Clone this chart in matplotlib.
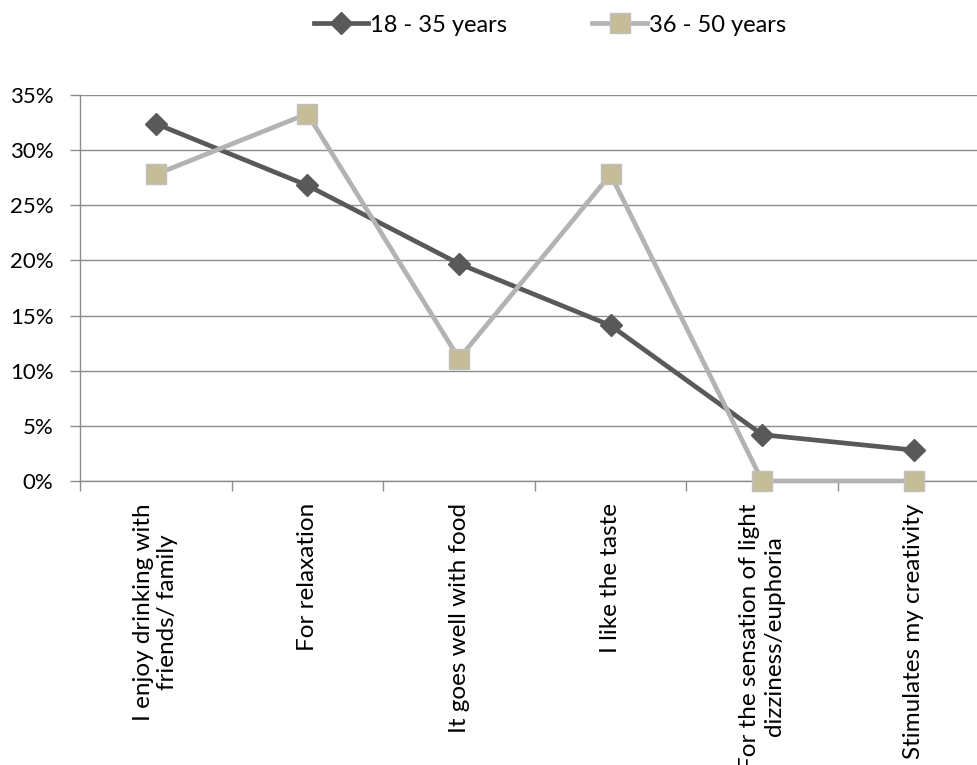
import numpy as np
import matplotlib
matplotlib.use("Agg")
import matplotlib.pyplot as plt
from matplotlib.ticker import FuncFormatter, FixedLocator

categories = [
    "I enjoy drinking with\nfriends/ family",
    "For relaxation",
    "It goes well with food",
    "I like the taste",
    "For the sensation of light\ndizziness/euphoria",
    "Stimulates my creativity",
]
young = [32.4, 26.8, 19.7, 14.1, 4.2, 2.8]
older = [27.8, 33.3, 11.1, 27.8, 0.0, 0.0]
y_ticks = [0, 5, 10, 15, 20, 25, 30, 35]

plt.rcParams["font.family"] = ["Lato", "DejaVu Sans"]

fig = plt.figure(figsize=(9.77, 7.65), dpi=100)
ax = fig.add_axes([80 / 977, 284 / 765, 909.6 / 977, 386 / 765])

x = np.arange(len(categories))
ax.plot(x, young, color="#595959", lw=3.4, marker="D", ms=11,
        mfc="#595959", mec="#595959", label="18 - 35 years", zorder=3,
        clip_on=False)
ax.plot(x, older, color="#b3b3b3", lw=3.4, marker="s", ms=14,
        mfc="#c4bd97", mec="#bfbfbf", mew=1, label="36 - 50 years", zorder=3,
        clip_on=False)

ax.set_xlim(-0.5, len(categories) - 0.5)
ax.set_ylim(0, 35)
ax.set_yticks(y_ticks)
ax.yaxis.set_major_formatter(FuncFormatter(lambda v, p: f"{v:.0f}%"))
ax.grid(axis="y", color="#8c8c8c", lw=1)
ax.set_axisbelow(True)

# category labels sit between boundary ticks
ax.set_xticks(x)
ax.set_xticklabels(categories, rotation=90, fontsize=17.5, ha="center",
                   va="top", multialignment="center")
ax.tick_params(axis="x", length=0, pad=16)
ax.xaxis.set_minor_locator(FixedLocator(np.arange(-0.5, len(categories), 1.0)))
ax.tick_params(axis="x", which="minor", length=7, color="#8c8c8c", width=1)
ax.tick_params(axis="y", length=7, color="#8c8c8c", width=1, labelsize=16, pad=12)

for s in ["top", "right"]:
    ax.spines[s].set_visible(False)
for s in ["left", "bottom"]:
    ax.spines[s].set_color("#8c8c8c")
    ax.spines[s].set_linewidth(1)

fig.legend(loc="center", bbox_to_anchor=(0.563, 0.967), ncol=2, frameon=False,
           fontsize=17, handlelength=2.3, columnspacing=3.6, handletextpad=0.1)

fig.savefig("out.png", dpi=100)
